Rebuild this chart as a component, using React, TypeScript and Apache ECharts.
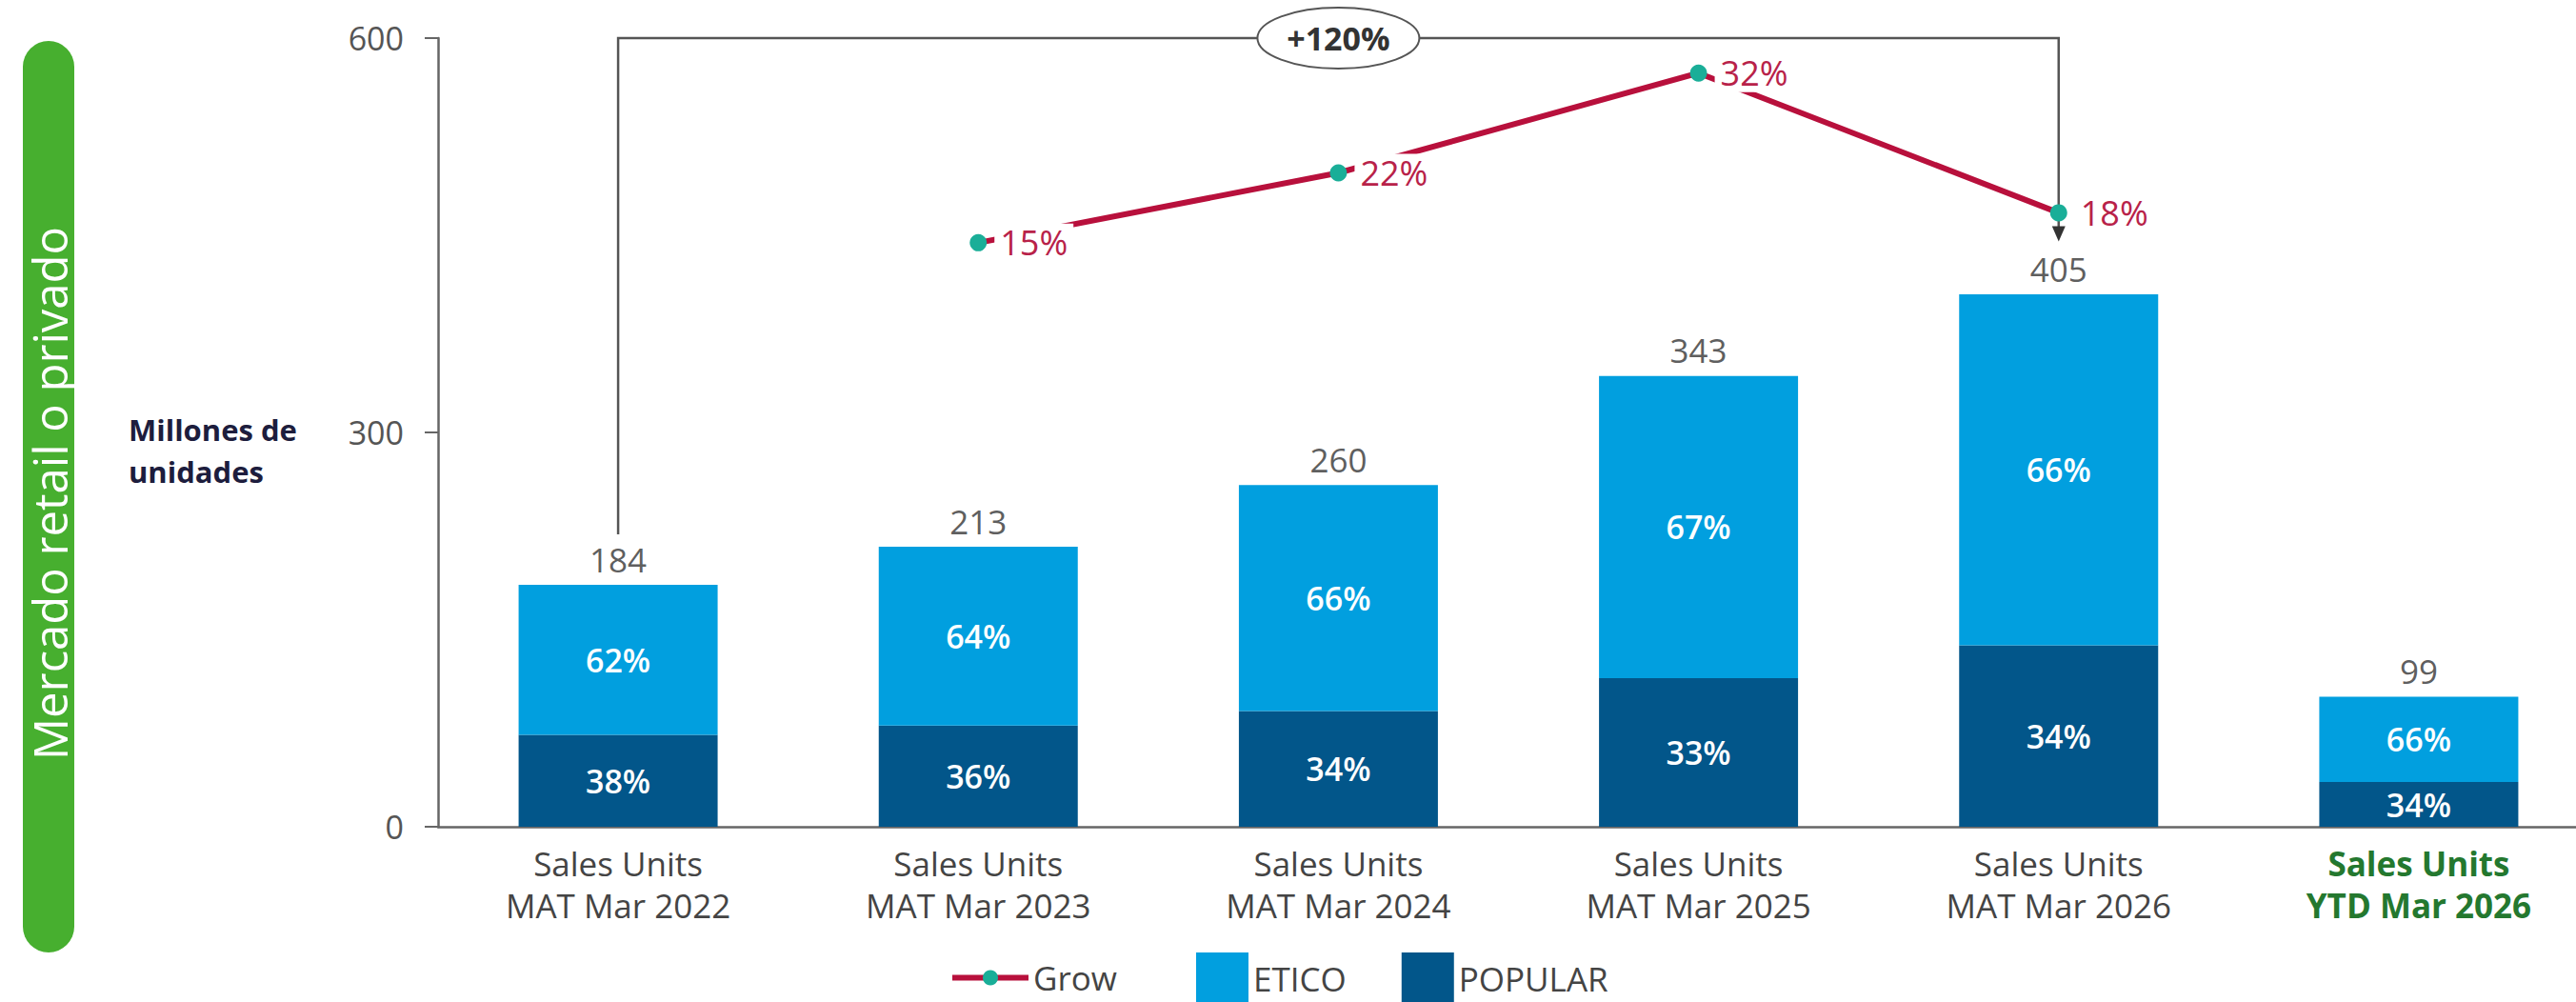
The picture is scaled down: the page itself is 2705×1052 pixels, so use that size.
import React, { useEffect, useRef } from 'react';
import * as echarts from 'echarts';

const categories = [
  'Sales Units\nMAT Mar 2022',
  'Sales Units\nMAT Mar 2023',
  'Sales Units\nMAT Mar 2024',
  'Sales Units\nMAT Mar 2025',
  'Sales Units\nMAT Mar 2026',
  'Sales Units\nYTD Mar 2026',
];
const popular = [70, 77, 88, 113, 138, 34];
const etico = [114, 136, 172, 230, 267, 65];
const totals = [184, 213, 260, 343, 405, 99];
const popularPct = [38, 36, 34, 33, 34, 34];
const eticoPct = [62, 64, 66, 67, 66, 66];
const grow: (number | null)[] = [null, 15, 22, 32, 18, null];
const yMin = 0;
const yMax = 600;
const yInterval = 300;
const bracketLabel = '+120%';
const sideLabel = 'Mercado retail o privado';
const unitLabel = 'Millones de\nunidades';

const FONT = "'Open Sans', 'Noto Sans', sans-serif";
const C_ETICO = '#019fdf';
const C_POPULAR = '#02568a';
const C_GROW = '#b8103c';
const C_GROW_LABEL = '#b82249';
const C_MARK = '#1aae98';
const C_AXIS = '#666666';
const C_TEXT = '#444444';

export default function App() {
  const ref = useRef<HTMLDivElement>(null);
  useEffect(() => {
    if (!ref.current) return;
    document.documentElement.style.overflow = 'hidden';
    document.body.style.overflow = 'hidden';
    const chart = echarts.init(ref.current, undefined, { renderer: 'svg' });
    chart.setOption({
      animation: false,
      textStyle: { fontFamily: FONT },
      grid: { left: 460, top: 40, height: 828, width: 2269 },
      xAxis: {
        type: 'category',
        data: categories,
        axisLine: { show: true, lineStyle: { color: C_AXIS, width: 2.5 } },
        axisTick: { show: false },
        axisLabel: {
          fontSize: 35,
          color: C_TEXT,
          lineHeight: 44,
          margin: 16,
          fontFamily: FONT,
          interval: 0,
          formatter: (v: string, i: number) =>
            i === 5 ? v.split('\n').map((s) => `{g|${s}}`).join('\n') : v,
          rich: {
            g: { color: '#24782f', fontWeight: 'bold', fontSize: 35, lineHeight: 44, fontFamily: FONT },
          },
        },
      },
      yAxis: [
        {
          type: 'value',
          min: yMin,
          max: yMax,
          interval: yInterval,
          axisLine: { show: true, lineStyle: { color: C_AXIS, width: 2.5 } },
          axisTick: { show: true, length: 14, lineStyle: { color: C_AXIS, width: 2 } },
          splitLine: { show: false },
          axisLabel: { fontSize: 34, color: '#555', margin: 36, fontFamily: FONT },
        },
        { type: 'value', min: -43.5, max: 35.5, show: false, splitLine: { show: false } },
      ],
      legend: [
        {
          data: ['Grow'],
          left: 997,
          top: 1009,
          padding: 0,
          itemWidth: 80,
          itemHeight: 20,
          lineStyle: { width: 6 },
          textStyle: { fontSize: 35, color: C_TEXT, fontFamily: FONT },
        },
        {
          data: ['ETICO', 'POPULAR'],
          left: 1256,
          top: 1000,
          padding: 0,
          itemWidth: 55,
          itemHeight: 55,
          itemGap: 58,
          icon: 'rect',
          textStyle: { fontSize: 35, color: C_TEXT, fontFamily: FONT },
        },
      ],
      series: [
        {
          name: 'POPULAR',
          type: 'bar',
          stack: 'u',
          data: popular,
          barWidth: 209,
          itemStyle: { color: C_POPULAR },
          label: {
            show: true,
            position: 'inside',
            formatter: (p: any) => popularPct[p.dataIndex] + '%',
            color: '#fff',
            fontSize: 34,
            fontWeight: 600,
            fontFamily: FONT,
          },
        },
        {
          name: 'ETICO',
          type: 'bar',
          stack: 'u',
          data: etico,
          barWidth: 209,
          itemStyle: { color: C_ETICO },
          label: {
            show: true,
            position: 'inside',
            formatter: (p: any) => eticoPct[p.dataIndex] + '%',
            color: '#fff',
            fontSize: 34,
            fontWeight: 600,
            fontFamily: FONT,
          },
        },
        {
          name: 'Total',
          type: 'scatter',
          data: totals,
          symbolSize: 1,
          itemStyle: { color: 'rgba(0,0,0,0)' },
          silent: true,
          label: {
            show: true,
            position: 'top',
            distance: 9,
            formatter: (p: any) => String(totals[p.dataIndex]),
            color: '#333',
            fontSize: 35,
            fontFamily: FONT,
          },
        },
        {
          name: 'Grow',
          type: 'line',
          yAxisIndex: 1,
          data: grow,
          z: 5,
          symbol: 'circle',
          symbolSize: 18,
          lineStyle: { color: C_GROW, width: 6 },
          itemStyle: { color: C_MARK },
          label: {
            show: true,
            position: 'right',
            distance: 8,
            formatter: (p: any) => p.value + '%',
            color: C_GROW_LABEL,
            fontSize: 36,
            fontFamily: FONT,
            backgroundColor: '#fff',
            padding: [2, 6, 2, 6],
          },
        },
      ],
    });

    const px = (x: number, y: number, yi = 0) =>
      chart.convertToPixel({ xAxisIndex: 0, yAxisIndex: yi }, [x, y]) as number[];
    const pL = px(0, yMax);
    const pLb = px(0, totals[0]);
    const pR = px(4, yMax);
    const pM = px(2, yMax);
    const pG = px(4, grow[4] as number, 1);
    const yTop = pL[1];
    const tip = pG[1] + 30;

    chart.setOption({
      graphic: [
        {
          type: 'rect',
          shape: { x: 24, y: 43, width: 54, height: 957, r: 27 },
          style: { fill: '#47af2f' },
        },
        {
          type: 'text',
          x: 52,
          y: 518,
          rotation: Math.PI / 2,
          style: {
            text: sideLabel,
            fill: '#fff',
            font: `49px ${FONT}`,
            align: 'center',
            verticalAlign: 'middle',
          },
        },
        {
          type: 'text',
          x: 135,
          y: 473,
          style: {
            text: unitLabel,
            fill: '#1d1d3d',
            font: `bold 31px ${FONT}`,
            lineHeight: 44,
            align: 'left',
            verticalAlign: 'middle',
          },
        },
        {
          type: 'polyline',
          z: 1,
          shape: {
            points: [
              [pL[0], pLb[1] - 53],
              [pL[0], yTop],
              [pR[0], yTop],
              [pR[0], tip - 14],
            ],
          },
          style: { stroke: '#555', lineWidth: 2.5, fill: 'none' },
        },
        {
          type: 'polygon',
          z: 1,
          shape: { points: [[pR[0] - 7, tip - 16], [pR[0] + 7, tip - 16], [pR[0], tip]] },
          style: { fill: '#333' },
        },
        {
          type: 'ellipse',
          z: 10,
          shape: { cx: pM[0], cy: yTop, rx: 85, ry: 32 },
          style: { fill: '#fff', stroke: '#555', lineWidth: 2 },
        },
        {
          type: 'text',
          z: 11,
          x: pM[0],
          y: yTop,
          style: {
            text: bracketLabel,
            fill: '#333',
            font: `bold 34px ${FONT}`,
            align: 'center',
            verticalAlign: 'middle',
          },
        },
      ],
    });

    return () => chart.dispose();
  }, []);
  return (
    <div
      ref={ref}
      style={{ position: 'fixed', left: 0, top: 0, width: 2760, height: 1052, background: '#fff' }}
    />
  );
}
